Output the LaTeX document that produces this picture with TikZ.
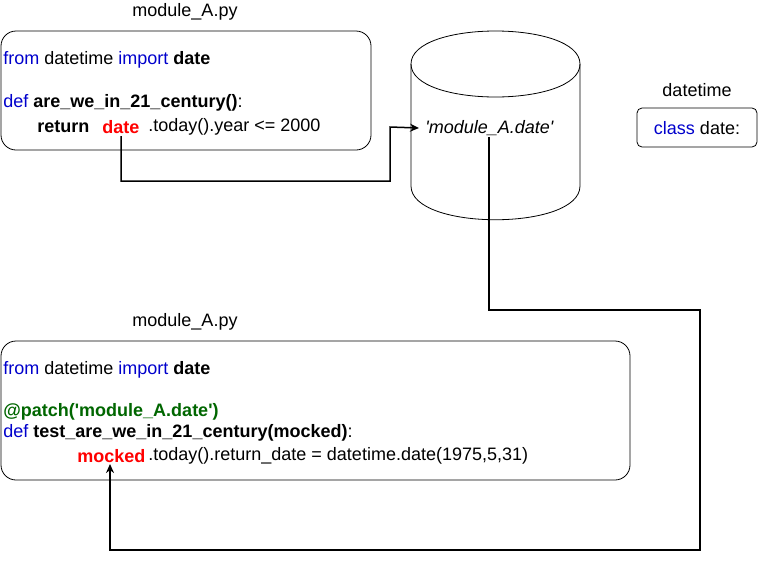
\documentclass[tikz,border=0pt]{standalone}
\usepackage{fontspec}
\setmainfont{Liberation Sans}
\usetikzlibrary{arrows.meta}
\definecolor{kwblue}{RGB}{0,0,204}
\definecolor{decogreen}{RGB}{0,102,0}
\tikzset{
  code/.style={anchor=west,inner sep=0pt,font=\fontsize{18}{21}\selectfont},
  title/.style={inner sep=0pt,font=\fontsize{18}{21}\selectfont},
  box/.style={draw,line width=0.8pt,rounded corners=15pt},
  link/.style={line width=1.5pt,-{Stealth[length=9pt,width=8pt]}}
}
\newcommand{\q}{\textquotesingle}
\begin{document}
\begin{tikzpicture}[x=1pt,y=-1pt,line width=0.8pt]
  \useasboundingbox (0,0) rectangle (758,560);
  % 上面的模块
  \node[title] (titleA) at (185,12) {module\_A.py};
  \draw[box] (1,31) rectangle (371,150);
  \node[code] (lineA1) at (3,60) {\textcolor{kwblue}{from} datetime \textcolor{kwblue}{import} \textbf{date}};
  \node[code] (lineA2) at (3,103) {\textcolor{kwblue}{def} \textbf{are\_we\_in\_21\_century()}:};
  \node[code] (ret) at (37,127) {\textbf{return}};
  \node[code,text=red] (date) at (102,127) {\textbf{date}};
  \node[code] (today) at (148,127) {.today().year <= 2000};
  % 圆柱
  \draw (411,64) .. controls (411,20) and (580,20) .. (580,64)
        .. controls (580,108) and (411,108) .. (411,64);
  \draw (411,64) -- (411,186) .. controls (411,231) and (580,231) .. (580,186) -- (580,64);
  \node[code,inner xsep=6pt,font=\fontsize{18}{21}\selectfont\itshape] (key) at (419,128) {\q module\_A.date\q};
  % datetime
  \node[title] (titleDT) at (697,90) {datetime};
  \draw[rounded corners=5pt] (637,108) rectangle (757,147);
  \node[title] (cls) at (697,128) {\textcolor{kwblue}{class} date:};
  % 下面的模块
  \node[title] (titleB) at (185,322) {module\_A.py};
  \draw[box] (1,341) rectangle (630,480);
  \node[code] (lineB1) at (3,370) {\textcolor{kwblue}{from} datetime \textcolor{kwblue}{import} \textbf{date}};
  \node[code,text=decogreen] (lineB2) at (3,412) {\textbf{@patch(\q module\_A.date\q)}};
  \node[code] (lineB3) at (3,433) {\textcolor{kwblue}{def} \textbf{test\_are\_we\_in\_21\_century(mocked)}:};
  \node[code,text=red] (mocked) at (77,456) {\textbf{mocked}};
  \node[code] (rest) at (148,456) {.today().return\_date = datetime.date(1975,5,31)};
  % 连线
  \coordinate (turnA) at (390,181);
  \draw[link] (121,136) -- (121,181) -- (turnA) -- (390,127) -- (key.west);
  \draw[link] (489,137) -- (489,310) -- (700,310) -- (700,550) -- (110,550) -- (110,464);
\end{tikzpicture}
\end{document}
